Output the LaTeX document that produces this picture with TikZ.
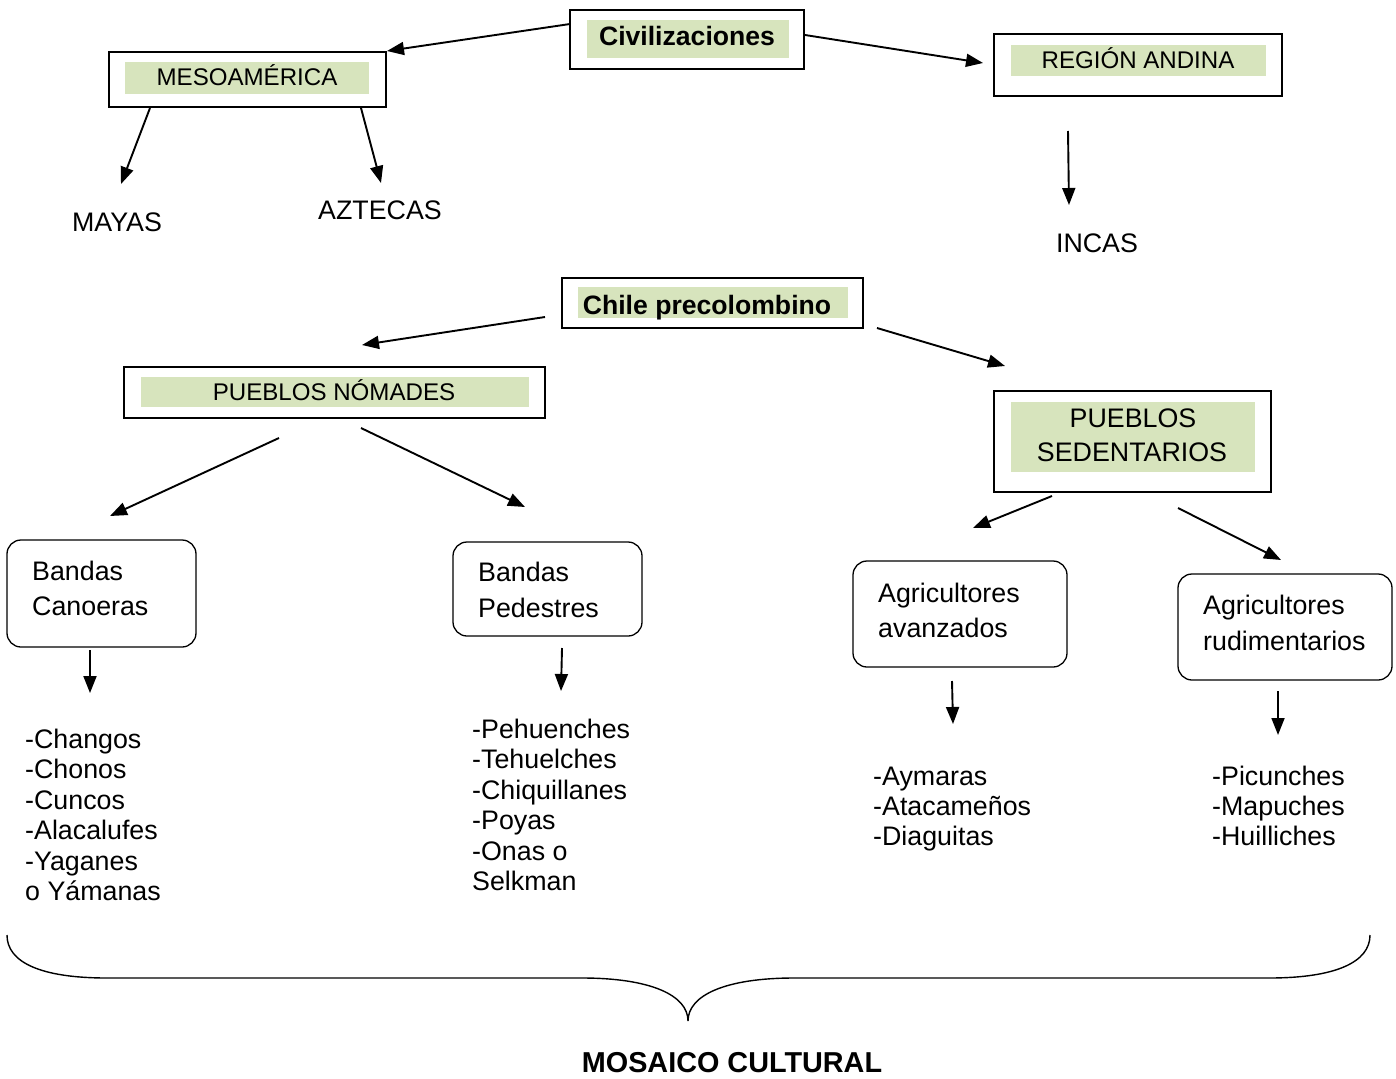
\documentclass[tikz,border=0pt]{standalone}
\usepackage{fontspec}
\setmainfont{Liberation Sans}
\usetikzlibrary{arrows.meta}
\definecolor{lab}{HTML}{D7E4BD}
\tikzset{
  obox/.style={draw, line width=1.6pt, inner sep=0pt, rectangle},
  gbox/.style={fill=lab, inner sep=0pt, rectangle},
  rbox/.style={draw, line width=1.3pt, rounded corners=14pt, inner sep=0pt, rectangle},
  txt/.style={font=\fontsize{26.8}{30}\selectfont, inner sep=0pt, anchor=base},
  stxt/.style={font=\fontsize{24.1}{28}\selectfont, inner sep=0pt, anchor=base},
  btxt/.style={font=\fontsize{26.6}{30}\selectfont\bfseries, inner sep=0pt, anchor=base},
  ltxt/.style={font=\fontsize{26.8}{30}\selectfont, inner sep=0pt, anchor=base west},
  arr/.style={line width=1.9pt, -{Triangle[length=17pt,width=13pt]}},
  brace/.style={line width=1.4pt}
}
\begin{document}
\begin{tikzpicture}[x=1pt,y=-1pt]
\useasboundingbox (0,0) rectangle (1396,1078);
% ---- Civilizaciones
\node[obox, minimum width=234pt, minimum height=59pt] (civ) at (687,39.5) {};
\node[gbox, minimum width=202pt, minimum height=38pt] (civg) at (688,39) {};
\node[btxt] (civt) at (687,45.5) {Civilizaciones};
% ---- Mesoamerica
\node[obox, minimum width=277pt, minimum height=55pt] (meso) at (247.5,79.5) {};
\node[gbox, minimum width=244pt, minimum height=32pt] (mesog) at (247,78) {};
\node[stxt] (mesot) at (247,85.5) {MESOAMÉRICA};
% ---- Region andina
\node[obox, minimum width=288pt, minimum height=62pt] (and) at (1138,65) {};
\node[gbox, minimum width=255pt, minimum height=31pt] (andg) at (1138.5,60.5) {};
\node[stxt] (andt) at (1138,68.5) {REGIÓN ANDINA};
% ---- leaves
\node[txt] (mayas) at (117,231) {MAYAS};
\node[txt] (aztecas) at (380,219) {AZTECAS};
\node[txt] (incas) at (1097,252) {INCAS};
% ---- Chile precolombino
\node[obox, minimum width=301pt, minimum height=50pt] (chile) at (712.5,303) {};
\node[gbox, minimum width=270pt, minimum height=31pt] (chileg) at (713,302.5) {};
\node[btxt] (chilet) at (707,314) {Chile precolombino};
% ---- Pueblos nomades
\node[obox, minimum width=421pt, minimum height=51pt] (nom) at (334.5,392.5) {};
\node[gbox, minimum width=388pt, minimum height=30pt] (nomg) at (335,392) {};
\node[stxt] (nomt) at (334,400.5) {PUEBLOS NÓMADES};
% ---- Pueblos sedentarios
\node[obox, minimum width=277pt, minimum height=101pt] (sed) at (1132.5,441.5) {};
\node[gbox, minimum width=244pt, minimum height=70pt] (sedg) at (1133,437) {};
\node[txt] (sedt1) at (1133,427) {PUEBLOS};
\node[txt] (sedt2) at (1132,461) {SEDENTARIOS};
% ---- rounded boxes
\node[rbox, minimum width=189pt, minimum height=107pt] (can) at (101.5,593.5) {};
\node[ltxt] (cant1) at (32,580) {Bandas};
\node[ltxt] (cant2) at (32,615) {Canoeras};
\node[rbox, minimum width=189pt, minimum height=94pt] (ped) at (547.5,589) {};
\node[ltxt] (pedt1) at (478,581) {Bandas};
\node[ltxt] (pedt2) at (478,617) {Pedestres};
\node[rbox, minimum width=214pt, minimum height=106pt] (ava) at (960,614) {};
\node[ltxt] (avat1) at (878,602) {Agricultores};
\node[ltxt] (avat2) at (878,637) {avanzados};
\node[rbox, minimum width=214pt, minimum height=106pt] (rud) at (1285,627) {};
\node[ltxt] (rudt1) at (1203,614) {Agricultores};
\node[ltxt] (rudt2) at (1203,650) {rudimentarios};
% ---- lists
\foreach \t [count=\i] in {-Changos,-Chonos,-Cuncos,-Alacalufes,-Yaganes,o Yámanas}
  \node[ltxt] (canl\i) at (25,{748+30.5*(\i-1)}) {\t};
\foreach \t [count=\i] in {-Pehuenches,-Tehuelches,-Chiquillanes,-Poyas,-Onas o,Selkman}
  \node[ltxt] (pedl\i) at (472,{738+30.5*(\i-1)}) {\t};
\foreach \t [count=\i] in {-Aymaras,-Atacameños,-Diaguitas}
  \node[ltxt] (aval\i) at (873,{785+30*(\i-1)}) {\t};
\foreach \t [count=\i] in {-Picunches,-Mapuches,-Huilliches}
  \node[ltxt] (rudl\i) at (1212,{785+30*(\i-1)}) {\t};
% ---- arrow coordinates
\coordinate (c1) at (570,24);    \coordinate (m1) at (387,51);
\coordinate (c2) at (805,35);    \coordinate (r1) at (983,63);
\coordinate (m2) at (150,108);   \coordinate (my) at (121,184);
\coordinate (m3) at (361,108);   \coordinate (az) at (381,183);
\coordinate (r2) at (1068,131);  \coordinate (in) at (1069,205);
\coordinate (h1) at (545,317);   \coordinate (n1) at (362,345);
\coordinate (h2) at (877,328);   \coordinate (s1) at (1005,366);
\coordinate (n2) at (279,438);   \coordinate (ca) at (110,516);
\coordinate (n3) at (361,428);   \coordinate (pe) at (525,507);
\coordinate (s2) at (1052,496);  \coordinate (av) at (973,528);
\coordinate (s3) at (1178,508);  \coordinate (ru) at (1281,560);
\coordinate (ca2) at (90,650);   \coordinate (cl) at (90,693);
\coordinate (pe2) at (562,648);  \coordinate (pl) at (561,691);
\coordinate (av2) at (952,681);  \coordinate (al) at (953,724);
\coordinate (ru2) at (1278,691); \coordinate (rl) at (1278,735);
\foreach \a/\b in {c1/m1,c2/r1,m2/my,m3/az,r2/in,h1/n1,h2/s1,n2/ca,n3/pe,s2/av,s3/ru,ca2/cl,pe2/pl,av2/al,ru2/rl}
  \draw[arr] (\a) -- (\b);
% ---- brace
\draw[brace] (7,935) .. controls (7,962) and (40,978) .. (107,978) -- (582,978)
  .. controls (650,978) and (688,995) .. (688,1021)
  .. controls (688,995) and (726,978) .. (794,978) -- (1269,978)
  .. controls (1336,978) and (1370,962) .. (1370,935);
\node[font=\fontsize{28.8}{32}\selectfont\bfseries, inner sep=0pt, anchor=base] (mos) at (732,1072) {MOSAICO CULTURAL};
\end{tikzpicture}
\end{document}
